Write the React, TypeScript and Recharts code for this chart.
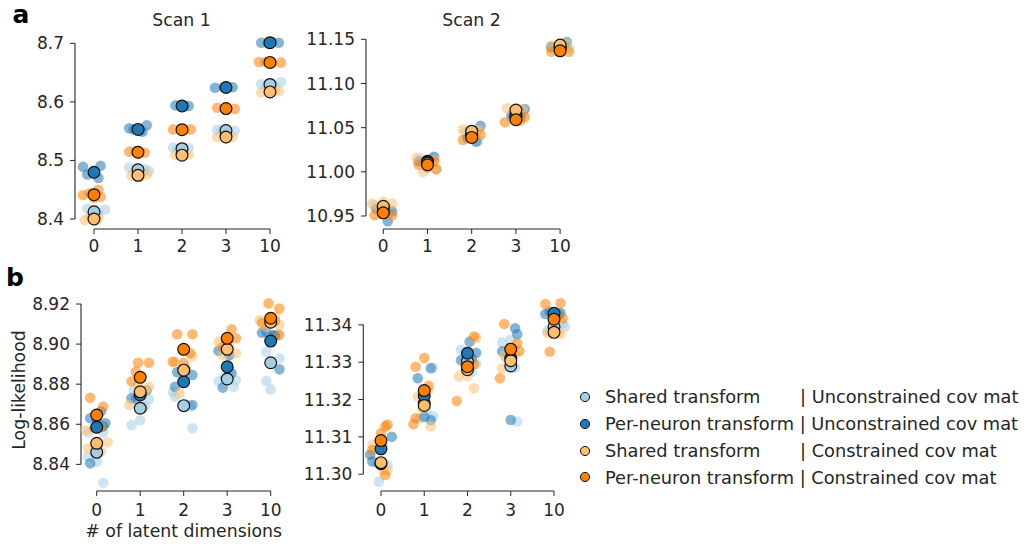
import { ScatterChart, Scatter, XAxis, YAxis, ReferenceLine } from "recharts";

// x categories (number of latent dimensions)
const CATEGORIES = ["0", "1", "2", "3", "10"];
const CAT_POS = [0, 1, 2, 3, 4];

const SERIES_NAMES = [
  "Shared transform       | Unconstrained cov mat",
  "Per-neuron transform | Unconstrained cov mat",
  "Shared transform       | Constrained cov mat",
  "Per-neuron transform | Constrained cov mat",
];
const SERIES_COLORS = ["#a6cee3", "#1f78b4", "#fdbf6f", "#ff7f00"];
const INK = "#262626";

// each run is [jitter offset, log-likelihood], one list per category

// ---- a, Scan 1
const a1SharedUnc = [
  [[-0.15, 8.418], [0.1, 8.41], [0.25, 8.416], [-0.05, 8.408], [0.05, 8.409]],
  [[-0.2, 8.488], [0.1, 8.48], [0.25, 8.482], [-0.05, 8.486], [0.15, 8.485]],
  [[-0.2, 8.522], [0.15, 8.521], [0.05, 8.518], [-0.1, 8.519]],
  [[-0.2, 8.552], [0.2, 8.551], [0.0, 8.55], [-0.1, 8.552]],
  [[-0.2, 8.63], [0.25, 8.634], [0.1, 8.628], [-0.1, 8.627]],
];
const a1SharedUncMean = [8.4123, 8.484, 8.52, 8.551, 8.6297];
const a1PerUnc = [
  [[-0.25, 8.489], [0.15, 8.491], [0.1, 8.47], [-0.15, 8.476], [0.0, 8.478]],
  [[-0.2, 8.555], [0.2, 8.56], [0.1, 8.549], [-0.1, 8.553], [0.05, 8.551]],
  [[-0.15, 8.594], [0.15, 8.593], [0.05, 8.592]],
  [[-0.25, 8.624], [0.15, 8.625], [-0.05, 8.625]],
  [[-0.2, 8.701], [0.2, 8.701], [0.05, 8.702], [-0.05, 8.7]],
];
const a1PerUncMean = [8.4798, 8.553, 8.593, 8.6245, 8.701];
const a1SharedCon = [
  [[-0.2, 8.398], [0.1, 8.402], [0.05, 8.397], [-0.1, 8.404]],
  [[-0.15, 8.474], [0.2, 8.476], [0.05, 8.472], [-0.05, 8.476]],
  [[-0.15, 8.509], [0.15, 8.51], [0.0, 8.508]],
  [[-0.2, 8.54], [0.15, 8.54], [0.0, 8.538]],
  [[-0.2, 8.616], [0.2, 8.618], [0.0, 8.615], [0.1, 8.619]],
];
const a1SharedConMean = [8.4, 8.4746, 8.509, 8.54, 8.617];
const a1PerCon = [
  [[-0.25, 8.441], [0.1, 8.45], [0.15, 8.438], [-0.1, 8.444], [0.0, 8.436]],
  [[-0.2, 8.515], [0.15, 8.513], [0.0, 8.512], [-0.05, 8.516]],
  [[-0.2, 8.553], [0.2, 8.553], [0.05, 8.552]],
  [[-0.2, 8.59], [0.2, 8.588], [0.0, 8.587]],
  [[-0.25, 8.668], [0.25, 8.667], [0.05, 8.666], [-0.1, 8.668]],
];
const a1PerConMean = [8.4415, 8.514, 8.5525, 8.5885, 8.6674];

// ---- a, Scan 2
const a2SharedUnc = [
  [[-0.2, 10.962], [0.15, 10.958], [0.05, 10.955]],
  [[-0.15, 11.015], [0.2, 11.003], [0.1, 11.016], [-0.05, 11.01]],
  [[-0.15, 11.045], [0.15, 11.035], [0.05, 11.04]],
  [[-0.1, 11.06], [0.15, 11.066], [0.0, 11.058]],
  [[-0.2, 11.142], [0.2, 11.14], [0.1, 11.144]],
];
const a2SharedUncMean = [10.96, 11.012, 11.043, 11.062, 11.141];
const a2PerUnc = [
  [[0.1, 10.944], [-0.15, 10.958], [0.2, 10.955]],
  [[-0.2, 11.012], [0.15, 11.017], [0.0, 11.006]],
  [[0.2, 11.052], [-0.1, 11.038], [0.1, 11.034]],
  [[0.2, 11.071], [-0.1, 11.064], [0.1, 11.062]],
  [[0.15, 11.147], [-0.2, 11.141], [0.0, 11.138]],
];
const a2PerUncMean = [10.955, 11.011, 11.041, 11.065, 11.14];
const a2SharedCon = [
  [[-0.25, 10.964], [0.2, 10.964], [0.0, 10.966], [-0.1, 10.958]],
  [[-0.25, 11.016], [-0.1, 11.0], [0.15, 11.013], [0.05, 11.008]],
  [[-0.2, 11.048], [0.15, 11.047], [0.0, 11.044]],
  [[-0.2, 11.072], [0.15, 11.071], [0.0, 11.068]],
  [[-0.2, 11.143], [0.15, 11.145], [0.0, 11.142]],
];
const a2SharedConMean = [10.961, 11.01, 11.046, 11.07, 11.1436];
const a2PerCon = [
  [[-0.2, 10.951], [0.2, 10.951], [0.0, 10.956], [-0.05, 10.953]],
  [[-0.2, 11.008], [0.15, 11.012], [0.0, 11.005], [0.2, 11.003]],
  [[-0.2, 11.036], [0.2, 11.042], [0.05, 11.04]],
  [[-0.25, 11.056], [0.1, 11.058], [0.2, 11.062]],
  [[-0.2, 11.136], [0.2, 11.136], [0.0, 11.138]],
];
const a2PerConMean = [10.9536, 11.008, 11.039, 11.059, 11.137];

// ---- b, Scan 1
const b1SharedUnc = [
  [[-0.2, 8.856], [-0.2, 8.8438], [0.15, 8.8308], [0.0, 8.8413], [0.15, 8.856]],
  [[-0.2, 8.8596], [0.0, 8.862], [0.2, 8.8724], [-0.15, 8.877], [0.1, 8.869]],
  [[-0.2, 8.8737], [0.2, 8.858], [-0.25, 8.8762], [0.05, 8.87], [0.15, 8.869]],
  [[0.15, 8.8787], [-0.2, 8.8815], [0.05, 8.8866], [-0.05, 8.884], [0.2, 8.882]],
  [[-0.1, 8.8962], [-0.1, 8.8816], [0.0, 8.8774], [0.2, 8.8929], [0.15, 8.905]],
];
const b1SharedUncMean = [8.846, 8.868, 8.8693, 8.8826, 8.8907];
const b1PerUnc = [
  [[-0.15, 8.863], [0.2, 8.8605], [-0.15, 8.8405], [0.1, 8.8665], [0.0, 8.862], [0.15, 8.859]],
  [[-0.2, 8.873], [-0.1, 8.8725], [0.15, 8.877], [0.05, 8.876]],
  [[-0.2, 8.8787], [0.2, 8.8846], [0.2, 8.8696], [-0.15, 8.886], [0.05, 8.887]],
  [[-0.2, 8.8967], [-0.1, 8.8783], [0.1, 8.8854], [0.05, 8.8944]],
  [[-0.2, 8.9057], [0.2, 8.8874], [0.05, 8.9045], [-0.1, 8.906], [0.1, 8.904]],
];
const b1PerUncMean = [8.8585, 8.8746, 8.8812, 8.8887, 8.9015];
const b1SharedCon = [
  [[-0.2, 8.848], [0.25, 8.851], [-0.25, 8.857], [0.1, 8.8465], [0.0, 8.85]],
  [[-0.25, 8.8696], [0.2, 8.8787], [-0.05, 8.88], [0.1, 8.8765]],
  [[-0.1, 8.8754], [0.2, 8.894], [-0.2, 8.891], [0.05, 8.888]],
  [[-0.2, 8.901], [0.2, 8.8954], [0.05, 8.899], [-0.1, 8.8945]],
  [[-0.25, 8.912], [0.2, 8.9095], [-0.1, 8.9085], [0.1, 8.9135]],
];
const b1SharedConMean = [8.8505, 8.8762, 8.887, 8.8974, 8.9109];
const b1PerCon = [
  [[-0.15, 8.8732], [0.15, 8.8688], [-0.05, 8.858], [0.1, 8.8585]],
  [[-0.05, 8.8907], [0.2, 8.8907], [-0.1, 8.8862], [-0.2, 8.8815], [0.05, 8.868]],
  [[-0.15, 8.9049], [0.2, 8.9049], [-0.25, 8.8912], [0.15, 8.8954], [0.0, 8.8906]],
  [[0.1, 8.9074], [0.2, 8.9029], [-0.1, 8.8985], [0.0, 8.9028]],
  [[-0.05, 8.9203], [0.2, 8.9178], [0.2, 8.9045], [-0.2, 8.9105], [0.1, 8.9115]],
];
const b1PerConMean = [8.8646, 8.8834, 8.8974, 8.9029, 8.9129];

// ---- b, Scan 2
const b2SharedUnc = [
  [[-0.05, 11.298], [-0.1, 11.303], [0.15, 11.3025], [0.05, 11.3075]],
  [[0.2, 11.3286], [0.2, 11.3155], [-0.1, 11.315], [0.05, 11.317]],
  [[-0.15, 11.3333], [0.1, 11.3275], [0.2, 11.3295], [-0.05, 11.3305]],
  [[-0.2, 11.3353], [0.15, 11.3141], [0.0, 11.336], [-0.1, 11.331], [0.1, 11.3286]],
  [[0.2, 11.3405], [0.25, 11.3395], [-0.15, 11.3385], [0.0, 11.3395]],
];
const b2SharedUncMean = [11.3028, 11.319, 11.3302, 11.329, 11.3395];
const b2PerUnc = [
  [[-0.25, 11.3052], [-0.2, 11.3034], [0.25, 11.31], [0.0, 11.3086]],
  [[-0.15, 11.3257], [0.15, 11.3284], [0.0, 11.3154], [0.15, 11.3145]],
  [[0.05, 11.3355], [0.2, 11.3325], [-0.15, 11.3305], [0.1, 11.331]],
  [[0.1, 11.3391], [-0.2, 11.3329], [0.0, 11.3145], [0.15, 11.3375]],
  [[-0.2, 11.3429], [0.15, 11.3432], [-0.1, 11.3435], [0.1, 11.3428]],
];
const b2PerUncMean = [11.3068, 11.321, 11.3324, 11.331, 11.3431];
const b2SharedCon = [
  [[-0.2, 11.3079], [0.0, 11.3025], [0.15, 11.3012], [0.05, 11.301]],
  [[0.15, 11.3128], [-0.05, 11.3175], [0.1, 11.3225], [-0.15, 11.3208]],
  [[-0.2, 11.3262], [0.15, 11.323], [0.2, 11.3365], [0.0, 11.3263]],
  [[-0.15, 11.3318], [-0.2, 11.3283], [0.1, 11.332], [0.0, 11.3295]],
  [[-0.15, 11.3378], [0.15, 11.3375], [0.0, 11.3385], [0.1, 11.3382]],
];
const b2SharedConMean = [11.3031, 11.3184, 11.328, 11.3304, 11.338];
const b2PerCon = [
  [[0.1, 11.3128], [0.15, 11.3133], [0.0, 11.311], [-0.2, 11.3065], [0.1, 11.2998]],
  [[0.0, 11.3311], [-0.2, 11.3288], [-0.2, 11.315], [-0.25, 11.3134], [0.1, 11.3237]],
  [[-0.25, 11.3196], [0.15, 11.3369], [0.15, 11.3295], [-0.05, 11.3292]],
  [[-0.15, 11.3402], [-0.25, 11.3257], [0.15, 11.3351], [0.2, 11.333]],
  [[-0.2, 11.3456], [0.15, 11.3458], [0.2, 11.3418], [-0.1, 11.3328]],
];
const b2PerConMean = [11.309, 11.3224, 11.3288, 11.3335, 11.3415];

const Y_TICKS_A1 = [8.4, 8.5, 8.6, 8.7];
const Y_TICKS_A2 = [10.95, 11.0, 11.05, 11.1, 11.15];
const Y_TICKS_B1 = [8.84, 8.86, 8.88, 8.9, 8.92];
const Y_TICKS_B2 = [11.3, 11.31, 11.32, 11.33, 11.34];

type PanelCfg = {
  left: number;
  top: number;
  width: number;
  height: number;
  margin: { top: number; right: number; bottom: number; left: number };
  yAxisWidth: number;
  xAxisHeight: number;
  xTickMargin: number;
  xDomain: [number, number];
  yDomain: [number, number];
  yTicks: number[];
  digits: number;
  runs: number[][][][];
  means: number[][];
};

const PANELS: PanelCfg[] = [
  {
    left: 0, top: 0, width: 300, height: 262,
    margin: { top: 32, right: 11, bottom: 0, left: 0 },
    yAxisWidth: 75, xAxisHeight: 33, xTickMargin: 6,
    xDomain: [-0.432, 4.432], yDomain: [8.3829, 8.7193],
    yTicks: Y_TICKS_A1, digits: 1,
    runs: [a1SharedUnc, a1PerUnc, a1SharedCon, a1PerCon],
    means: [a1SharedUncMean, a1PerUncMean, a1SharedConMean, a1PerConMean],
  },
  {
    left: 280, top: 0, width: 310, height: 262,
    margin: { top: 32, right: 12.6, bottom: 0, left: 0 },
    yAxisWidth: 86, xAxisHeight: 33, xTickMargin: 6,
    xDomain: [-0.391, 4.391], yDomain: [10.9353, 11.1583],
    yTicks: Y_TICKS_A2, digits: 2,
    runs: [a2SharedUnc, a2PerUnc, a2SharedCon, a2PerCon],
    means: [a2SharedUncMean, a2PerUncMean, a2SharedConMean, a2PerConMean],
  },
  {
    left: 0, top: 270, width: 300, height: 270,
    margin: { top: 25, right: 13.6, bottom: 19, left: 0 },
    yAxisWidth: 81, xAxisHeight: 30, xTickMargin: 8,
    xDomain: [-0.361, 4.361], yDomain: [8.8267, 8.9245],
    yTicks: Y_TICKS_B1, digits: 2,
    runs: [b1SharedUnc, b1PerUnc, b1SharedCon, b1PerCon],
    means: [b1SharedUncMean, b1PerUncMean, b1SharedConMean, b1PerConMean],
  },
  {
    left: 280, top: 270, width: 300, height: 270,
    margin: { top: 25, right: 8.3, bottom: 19, left: 0 },
    yAxisWidth: 83.3, xAxisHeight: 30, xTickMargin: 8,
    xDomain: [-0.409, 4.409], yDomain: [11.2955, 11.348],
    yTicks: Y_TICKS_B2, digits: 2,
    runs: [b2SharedUnc, b2PerUnc, b2SharedCon, b2PerCon],
    means: [b2SharedUncMean, b2PerUncMean, b2SharedConMean, b2PerConMean],
  },
];

const runDot = (color: string) => (p: any) => (
  <circle cx={p.cx} cy={p.cy} r={5.3} fill={color} fillOpacity={0.55} stroke="none" />
);
const meanDot = (color: string) => (p: any) => (
  <circle cx={p.cx} cy={p.cy} r={5.9} fill={color} stroke="#111" strokeWidth={1.2} />
);

function Panel({ cfg }: { cfg: PanelCfg }) {
  const xMin = cfg.xDomain[0];
  const yMin = cfg.yDomain[0];
  const yLo = cfg.yTicks[0];
  const yHi = cfg.yTicks[cfg.yTicks.length - 1];
  const tickStyle = { fill: INK, fontSize: 17, fontFamily: "DejaVu Sans" };
  return (
    <div style={{ position: "absolute", left: cfg.left, top: cfg.top }}>
      <ScatterChart width={cfg.width} height={cfg.height} margin={cfg.margin}>
        <XAxis
          type="number"
          dataKey="x"
          domain={cfg.xDomain}
          ticks={CAT_POS}
          interval={0}
          tickFormatter={(v: number) => CATEGORIES[v]}
          axisLine={false}
          tickLine={{ stroke: INK }}
          tickSize={5}
          tickMargin={cfg.xTickMargin}
          height={cfg.xAxisHeight}
          tick={tickStyle}
        />
        <YAxis
          type="number"
          dataKey="y"
          domain={cfg.yDomain}
          ticks={cfg.yTicks}
          interval={0}
          tickFormatter={(v: number) => v.toFixed(cfg.digits)}
          axisLine={false}
          tickLine={{ stroke: INK }}
          tickSize={5}
          tickMargin={6}
          width={cfg.yAxisWidth}
          tick={tickStyle}
        />
        <ReferenceLine
          segment={[{ x: xMin, y: yLo }, { x: xMin, y: yHi }]}
          stroke={INK}
          strokeWidth={1.1}
          ifOverflow="visible"
        />
        <ReferenceLine
          segment={[{ x: 0, y: yMin }, { x: 4, y: yMin }]}
          stroke={INK}
          strokeWidth={1.1}
          ifOverflow="visible"
        />
        {cfg.runs.map((series, s) => (
          <Scatter
            key={`runs-${s}`}
            data={series.flatMap((runs, c) => runs.map(([dx, y]) => ({ x: c + dx, y })))}
            shape={runDot(SERIES_COLORS[s])}
            isAnimationActive={false}
          />
        ))}
        {cfg.means.map((vals, s) => (
          <Scatter
            key={`mean-${s}`}
            data={vals.map((y, c) => ({ x: c, y }))}
            shape={meanDot(SERIES_COLORS[s])}
            isAnimationActive={false}
          />
        ))}
      </ScatterChart>
    </div>
  );
}

const textBase = {
  position: "absolute" as const,
  fontFamily: "DejaVu Sans",
  color: INK,
  whiteSpace: "pre" as const,
};

export default function App() {
  return (
    <div
      style={{
        position: "absolute",
        left: 0,
        top: 0,
        width: 1025,
        height: 545,
        background: "#fff",
        fontFamily: "DejaVu Sans",
        overflow: "hidden",
      }}
    >
      {PANELS.map((cfg, i) => (
        <Panel key={i} cfg={cfg} />
      ))}

      <div style={{ ...textBase, left: 12.5, top: 2, fontSize: 25, lineHeight: "25px", fontWeight: "bold", color: "#000" }}>a</div>
      <div style={{ ...textBase, left: 6, top: 265, fontSize: 25, lineHeight: "25px", fontWeight: "bold", color: "#000" }}>b</div>

      <div style={{ ...textBase, left: 81.5, top: 10, width: 200, textAlign: "center", fontSize: 17.3, lineHeight: "20px" }}>Scan 1</div>
      <div style={{ ...textBase, left: 371.5, top: 10, width: 200, textAlign: "center", fontSize: 17.3, lineHeight: "20px" }}>Scan 2</div>

      <div
        style={{
          ...textBase,
          left: 19 - 100,
          top: 390 - 10,
          width: 200,
          height: 20,
          textAlign: "center",
          fontSize: 17.3,
          lineHeight: "20px",
          transform: "rotate(-90deg)",
        }}
      >
        Log-likelihood
      </div>
      <div style={{ ...textBase, left: 83.7, top: 521, width: 200, textAlign: "center", fontSize: 17.3, lineHeight: "20px" }}>
        # of latent dimensions
      </div>

      <div style={{ position: "absolute", left: 578, top: 383.6 }}>
        {SERIES_NAMES.map((name, i) => (
          <div key={i} style={{ display: "flex", alignItems: "center", height: 26.8 }}>
            <svg width={14} height={14} style={{ display: "block" }}>
              <circle cx={7} cy={7} r={4.6} fill={SERIES_COLORS[i]} stroke="#111" strokeWidth={1} />
            </svg>
            <span style={{ marginLeft: 13, fontSize: 17.8, color: INK, whiteSpace: "pre", fontFamily: "DejaVu Sans" }}>
              {name}
            </span>
          </div>
        ))}
      </div>
    </div>
  );
}
